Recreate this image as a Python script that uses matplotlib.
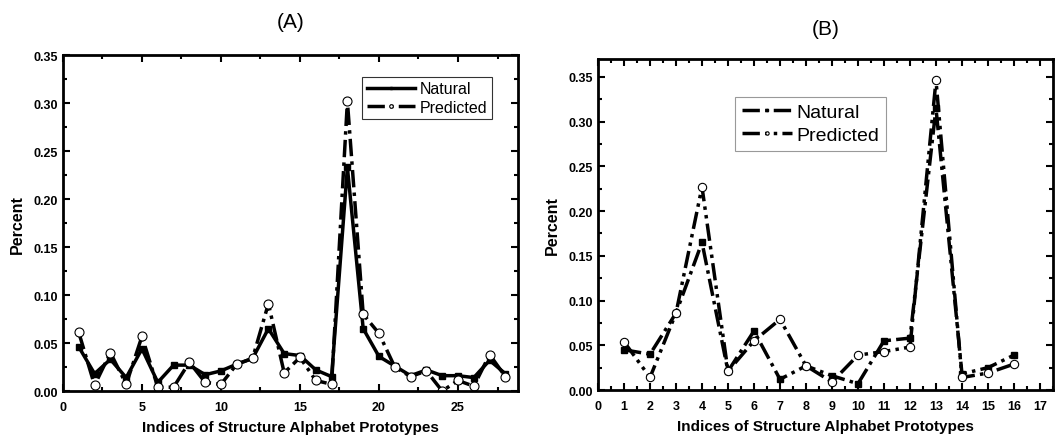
import matplotlib.pyplot as plt
from matplotlib.ticker import MultipleLocator

plt.rcParams["font.family"] = ["Liberation Sans", "DejaVu Sans"]

# panel A data
idx_a = list(range(1, 29))
natural_a = [0.046, 0.018, 0.033, 0.014, 0.044, 0.009, 0.027, 0.027, 0.017, 0.021,
             0.028, 0.034, 0.065, 0.039, 0.037, 0.022, 0.015, 0.233, 0.065, 0.036,
             0.026, 0.016, 0.022, 0.016, 0.016, 0.014, 0.032, 0.018]
predicted_a = [0.061, 0.006, 0.040, 0.007, 0.057, 0.004, 0.004, 0.030, 0.009, 0.007,
               0.028, 0.034, 0.091, 0.019, 0.035, 0.011, 0.007, 0.302, 0.080, 0.060,
               0.025, 0.015, 0.021, 0.000, 0.011, 0.005, 0.038, 0.015]

# panel B data
idx_b = list(range(1, 17))
natural_b = [0.045, 0.040, 0.086, 0.165, 0.021, 0.066, 0.012, 0.027, 0.016, 0.007,
             0.055, 0.058, 0.315, 0.018, 0.025, 0.039]
predicted_b = [0.054, 0.014, 0.086, 0.227, 0.021, 0.055, 0.079, 0.027, 0.009, 0.039,
               0.043, 0.048, 0.346, 0.014, 0.019, 0.029]

fig = plt.figure(figsize=(10.62, 4.39), dpi=100)
ax_a = fig.add_axes([0.0593, 0.107, 0.4285, 0.765])
ax_b = fig.add_axes([0.5631, 0.1093, 0.4284, 0.754])


def style_axes(ax, xmaj, xmin, ymax, xlim):
    ax.set_xlim(*xlim)
    ax.set_ylim(0, ymax)
    ax.xaxis.set_major_locator(MultipleLocator(xmaj))
    ax.xaxis.set_minor_locator(MultipleLocator(xmin))
    ax.yaxis.set_major_locator(MultipleLocator(0.05))
    ax.yaxis.set_minor_locator(MultipleLocator(0.025))
    ax.yaxis.set_major_formatter(plt.FuncFormatter(lambda v, p: f"{v:.2f}"))
    ax.tick_params(which="both", direction="in", top=True, right=True, width=1.5)
    ax.tick_params(which="major", length=5, labelsize=9)
    ax.tick_params(axis="x", which="major", pad=7)
    ax.tick_params(which="minor", length=3)
    for lab in ax.get_xticklabels() + ax.get_yticklabels():
        lab.set_fontweight("bold")
    for sp in ax.spines.values():
        sp.set_linewidth(2)
    ax.set_xlabel("Indices of Structure Alphabet Prototypes", fontsize=11,
                  fontweight="bold", labelpad=5)
    ax.set_ylabel("Percent", fontsize=11.5, fontweight="bold", labelpad=6)


# (A)
ax_a.plot(idx_a, natural_a, color="black", lw=2.5, marker="s", ms=5,
          label="Natural")
ax_a.plot(idx_a, predicted_a, color="black", lw=2.5, dashes=(5, 1.5, 1, 1.5),
          marker="o", ms=6.5, mfc="white", mec="black", mew=0.8, label="Predicted")
style_axes(ax_a, 5, 2.5, 0.35, (0, 28.8))
ax_a.set_title("(A)", fontsize=15, pad=20)
leg = ax_a.legend(loc="upper right", bbox_to_anchor=(0.96, 0.96), fontsize=11.5,
                  frameon=True, fancybox=False, edgecolor="black", handlelength=3.0,
                  markerscale=0.4, borderpad=0.3, labelspacing=0.2, handletextpad=0.3)
leg.get_frame().set_linewidth(0.8)

# (B)
ax_b.plot(idx_b, natural_b, color="black", lw=2.5, dashes=(5, 1.5, 1, 1.5),
          marker="s", ms=5, label="Natural")
ax_b.plot(idx_b, predicted_b, color="black", lw=2.5, dashes=(5, 1.5, 1, 1.5, 1, 1.5),
          marker="o", ms=6, mfc="white", mec="black", mew=0.8, label="Predicted")
style_axes(ax_b, 1, 0.5, 0.37, (0, 17.5))
ax_b.set_title("(B)", fontsize=15, pad=18)
leg = ax_b.legend(loc="upper left", bbox_to_anchor=(0.28, 0.915), fontsize=14,
                  frameon=True, fancybox=False, edgecolor="gray", handlelength=2.6,
                  markerscale=0.4, borderpad=0.35, labelspacing=0.25, handletextpad=0.2)
leg.get_frame().set_linewidth(0.8)

fig.savefig("out.png", dpi=100)
